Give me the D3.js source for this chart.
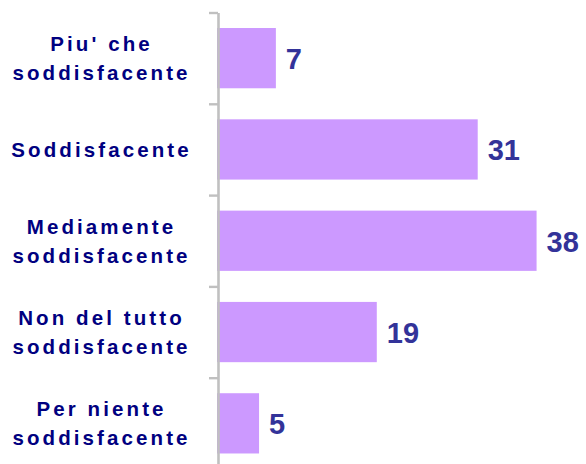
<!DOCTYPE html>
<html>
<head>
  <meta charset="utf-8">
  <title>Soddisfazione</title>
  <script src="https://d3js.org/d3.v7.min.js"></script>
  <style>
    body { margin: 0; background: #fff; }
    .cat_label {
      font-family: "Liberation Sans", Arial, sans-serif;
      font-weight: bold;
      font-size: 20.5px;
      letter-spacing: 3.1px;
      fill: #000080;
      text-anchor: middle;
    }
    .value_label {
      font-family: "Liberation Sans", Arial, sans-serif;
      font-weight: bold;
      font-size: 29px;
      fill: #333399;
      dominant-baseline: central;
    }
  </style>
</head>
<body>
  <svg id="canvas"></svg>
  <script>
    const categories = [
      ["Piu' che", "soddisfacente"],
      ["Soddisfacente"],
      ["Mediamente", "soddisfacente"],
      ["Non del tutto", "soddisfacente"],
      ["Per niente", "soddisfacente"]
    ];
    const values = [7, 31, 38, 19, 5];

    const dims = { width: 586, height: 464, axis_x: 218, bar_x0: 217, top: 12.5, step: 91.3, label_cx: 101.5, line_h: 29 };

    const svg = d3.select("svg#canvas")
      .attr("width", dims.width)
      .attr("height", dims.height);

    const keys = categories.map((c, i) => i);

    const y = d3.scaleBand()
      .domain(keys)
      .range([dims.top, dims.top + dims.step * keys.length])
      .paddingInner(0.34)
      .paddingOuter(0.17);

    const x = d3.scaleLinear()
      .domain([0, 40])
      .range([dims.bar_x0, dims.bar_x0 + 336.4]);

    svg.selectAll(".bar")
      .data(values)
      .enter().append("rect")
      .attr("class", "bar")
      .attr("x", x(0))
      .attr("y", (_, i) => y(i))
      .attr("width", v => x(v) - x(0))
      .attr("height", y.bandwidth())
      .attr("fill", "#cc99ff");

    // axis line with ticks at the band boundaries
    const axis = d3.axisLeft(d3.scaleLinear().domain([0, keys.length]).range([y.range()[0], y.range()[1]]))
      .tickValues(d3.range(keys.length + 1))
      .tickFormat("")
      .tickSize(9)
      .tickSizeOuter(0);

    const ax = svg.append("g")
      .attr("transform", "translate(" + dims.axis_x + ",0)")
      .call(axis);
    ax.select(".domain").attr("stroke", "#c0c0c0").attr("stroke-width", 2.6);
    ax.selectAll(".tick line").attr("stroke", "#c0c0c0").attr("stroke-width", 2.4);

    svg.selectAll(".value_label")
      .data(values)
      .enter().append("text")
      .attr("class", "value_label")
      .attr("x", v => x(v) + 10)
      .attr("y", (_, i) => y(i) + y.bandwidth() / 2 + 1)
      .text(v => v);

    const labels = svg.selectAll(".cat_label")
      .data(categories)
      .enter().append("text")
      .attr("class", "cat_label")
      .attr("x", dims.label_cx)
      .attr("y", (c, i) => y(i) + y.bandwidth() / 2 + 7.5 - (c.length - 1) * dims.line_h / 2);

    labels.selectAll("tspan")
      .data(c => c)
      .enter().append("tspan")
      .attr("x", dims.label_cx)
      .attr("dy", (_, j) => j ? dims.line_h : 0)
      .text(t => t);
  </script>
</body>
</html>
